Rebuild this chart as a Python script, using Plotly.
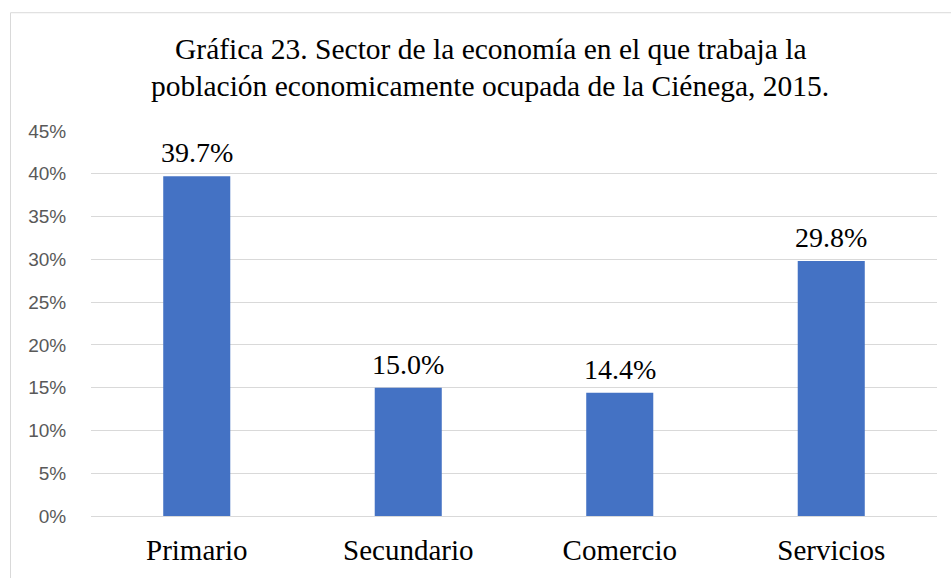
import plotly.graph_objects as go

categories = ["Primario", "Secundario", "Comercio", "Servicios"]
values = [39.7, 15.0, 14.4, 29.8]
tick_vals = [0, 5, 10, 15, 20, 25, 30, 35, 40, 45]
tick_text = [f"{v}%" for v in tick_vals]
title_lines = ["Gráfica 23. Sector de la economía en el que trabaja la",
               "población economicamente ocupada de la Ciénega, 2015."]

W, H = 951, 578
L, R, T, B = 91, 14, 131, 58
pw = W - L - R
ph = H - T - B

SERIF = "Liberation Serif, Times New Roman, serif"

fig = go.Figure(go.Bar(
    x=categories, y=values,
    marker=dict(color="#4472C4", line=dict(width=0)),
    hoverinfo="x+y",
))

annotations = [
    dict(text=t, xref="paper", yref="paper",
         x=(490 - L) / pw, y=(H - B - yc) / ph, xanchor="center", yanchor="middle",
         showarrow=False, font=dict(family=SERIF, size=29.5, color="#000000"))
    for t, yc in zip(title_lines, [48, 86])
]
annotations += [
    dict(text=f"{v:.1f}%", x=c, y=v, xref="x", yref="y",
         xanchor="center", yanchor="bottom", yshift=6, showarrow=False,
         font=dict(family=SERIF, size=28, color="#000000"))
    for c, v in zip(categories, values)
]

fig.update_layout(
    width=W, height=H,
    margin=dict(l=L, r=R, t=T, b=B),
    paper_bgcolor="white", plot_bgcolor="white",
    bargap=0.683,
    showlegend=False,
    xaxis=dict(showgrid=False, showline=False, zeroline=False,
               ticks="outside", ticklen=8, tickcolor="rgba(0,0,0,0)",
               tickfont=dict(family=SERIF, size=29, color="#000000")),
    yaxis=dict(range=[0, 45], tickvals=tick_vals, ticktext=tick_text,
               showgrid=True, gridcolor="#D9D9D9", gridwidth=1,
               zeroline=True, zerolinecolor="#D9D9D9", zerolinewidth=1,
               ticks="outside", ticklen=20, tickcolor="rgba(0,0,0,0)",
               tickfont=dict(family="Liberation Sans, Arial, sans-serif", size=19, color="#595959")),
    annotations=annotations,
    shapes=[
        dict(type="line", xref="paper", yref="paper",
             x0=(10.5 - L) / pw, x1=(W + 5 - L) / pw,
             y0=(H - B - 11.5) / ph, y1=(H - B - 11.5) / ph,
             line=dict(color="#D9D9D9", width=1)),
        dict(type="line", xref="paper", yref="paper",
             x0=(10.5 - L) / pw, x1=(10.5 - L) / pw,
             y0=(H - B - 11.5) / ph, y1=(H - B - H - 5) / ph,
             line=dict(color="#D9D9D9", width=1)),
    ],
)

fig.write_html("out.html",
               config={"displayModeBar": False},
               post_script="document.body.style.margin='0';document.body.style.overflow='hidden';")
